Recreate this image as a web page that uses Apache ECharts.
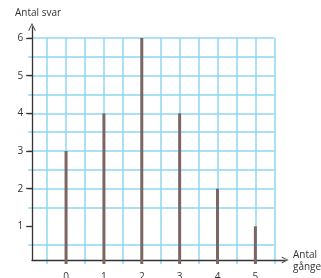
<!DOCTYPE html>
<html>
<head>
<meta charset="utf-8">
<script src="https://cdn.jsdelivr.net/npm/echarts@6/dist/echarts.min.js"></script>
<style>
  html, body { margin: 0; padding: 0; background: #fff; }
  #chart { width: 321px; height: 278px; }
</style>
</head>
<body>
<div id="chart"></div>
<script>
// antal gånge -> antal svar
const times = [0, 1, 2, 3, 4, 5]
const answers = [3, 4, 6, 4, 2, 1]
const yTicks = [1, 2, 3, 4, 5, 6]

const gridColor = '#8fd6f4'
const inkColor = '#333'
const font = 'Open Sans'

const chart = echarts.init(document.getElementById('chart'))
const chevron = 'path://M0,10 L5,0 L10,10 L9,10.8 L5,2.4 L1,10.8 Z'

const option = {
  animation: false,
  grid: [
    { left: 28.2, right: 46.7, top: 38, bottom: 14, outerBoundsMode: 'none' },
    // only the two arrowed axis lines live here
    { left: 32, right: 36, top: 27, bottom: 18, outerBoundsMode: 'none' }
  ],
  xAxis: [{
    type: 'value',
    gridIndex: 0,
    min: -1,
    max: 5.5,
    interval: 0.5,
    offset: -4,
    axisLine: { show: false, onZero: false },
    axisTick: { show: false },
    axisLabel: {
      margin: 12,
      color: inkColor,
      fontFamily: font,
      fontSize: 10,
      customValues: times
    },
    splitLine: { show: true, showMinLine: false, lineStyle: { color: gridColor, width: 1.5 } }
  }, {
    type: 'value',
    gridIndex: 1,
    min: 0,
    max: 1,
    axisLine: {
      show: true,
      onZero: false,
      symbol: ['none', chevron],
      symbolSize: [14, 7],
      lineStyle: { color: inkColor, width: 1.3 }
    },
    axisTick: { show: false },
    axisLabel: { show: false },
    splitLine: { show: false },
    name: 'Antal\ngånge',
    nameLocation: 'end',
    nameGap: 8,
    nameTextStyle: { color: inkColor, fontFamily: font, fontSize: 10, lineHeight: 12, verticalAlign: 'top', padding: [-11, 0, 0, 0] }
  }],
  yAxis: [{
    type: 'value',
    gridIndex: 0,
    min: 0,
    max: 6,
    interval: 1,
    offset: -4,
    axisLine: { show: false, onZero: false },
    axisTick: { show: true, length: 6, customValues: yTicks, lineStyle: { color: inkColor, width: 1.3 } },
    axisLabel: { margin: 9, color: inkColor, fontFamily: font, fontSize: 10, customValues: yTicks },
    splitLine: { show: true, showMinLine: false, lineStyle: { color: gridColor, width: 1.5 } },
    minorTick: { show: false, splitNumber: 2 },
    minorSplitLine: { show: true, lineStyle: { color: gridColor, width: 1.5 } }
  }, {
    type: 'value',
    gridIndex: 1,
    min: 0,
    max: 1,
    axisLine: {
      show: true,
      onZero: false,
      symbol: ['none', chevron],
      symbolSize: [15, 8],
      lineStyle: { color: inkColor, width: 1.3 }
    },
    axisTick: { show: false },
    axisLabel: { show: false },
    splitLine: { show: false },
    name: 'Antal svar',
    nameLocation: 'end',
    nameGap: 9,
    nameTextStyle: { color: inkColor, fontFamily: font, fontSize: 10, align: 'left', padding: [0, 0, 0, -17] }
  }],
  series: [{
    type: 'bar',
    xAxisIndex: 0,
    yAxisIndex: 0,
    barWidth: 3,
    itemStyle: { color: '#7b6663' },
    data: times.map((t, i) => [t, answers[i]])
  }]
}
chart.setOption(option)
</script>
</body>
</html>
